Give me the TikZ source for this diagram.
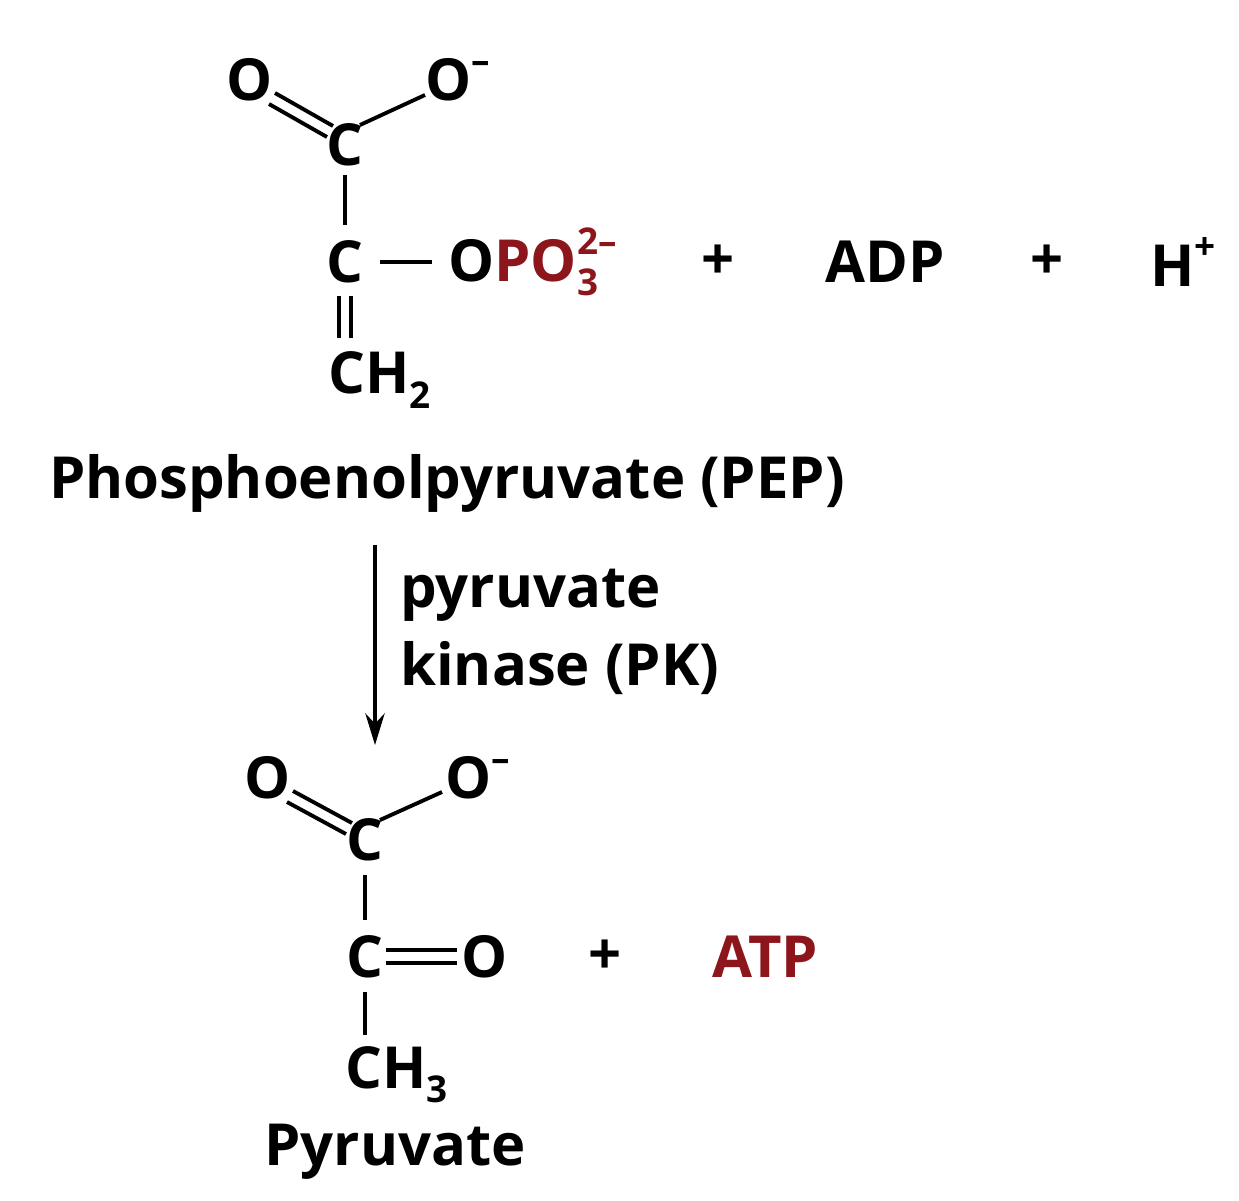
\documentclass[tikz,border=0pt]{standalone}
\usepackage{fontspec}
\usetikzlibrary{arrows.meta}
\setmainfont{Open Sans}
\definecolor{dred}{RGB}{140,22,28}
\newcommand{\smf}{\fontsize{21}{21}\selectfont}
\newcommand{\myup}[1]{\raisebox{0.85ex}{\smf #1}}
\newcommand{\mydn}[1]{\raisebox{-0.45ex}{\smf #1}}
\begin{document}
\begin{tikzpicture}[x=0.02cm,y=-0.02cm,
  t/.style={inner sep=0pt,font=\fontsize{33}{38}\selectfont\bfseries},
  bond/.style={line width=2.2pt}]
\useasboundingbox (0,0) rectangle (1239,1200);
% PEP
\node[t] (o1) at (250,80) {O};
\node[t,anchor=west] (o2) at (425,80) {O\myup{–}};
\node[t] (c1) at (345,145) {C};
\node[t] (c2) at (345,262) {C};
\node[t,anchor=west] (op) at (448,262) {O\textcolor{dred}{PO\rlap{\myup{2–}}\mydn{3}}};
\node[t] (p1) at (718,262) {+};
\node[t] (adp) at (885,262) {ADP};
\node[t] (p2) at (1047,262) {+};
\node[t,anchor=west] (h) at (1150,262) {H\myup{+}};
\node[t,anchor=west] (ch2) at (328,380) {CH\mydn{2}};
\node[t] (pep) at (447,483) {Phosphoenolpyruvate (PEP)};
\draw[bond] (275,93) -- (333,126);
\draw[bond] (269,104) -- (327,137);
\draw[bond] (360,125) -- (425,95);
\draw[bond] (345,175) -- (345,225);
\draw[bond] (380,262) -- (432,262);
\draw[bond] (339,296) -- (339,338);
\draw[bond] (351,296) -- (351,338);
% arrow
\coordinate (a1) at (375,545);
\coordinate (a2) at (375,745);
\draw[line width=1.8pt,-{Stealth[length=18pt,width=11pt]}] (a1) -- (a2);
\node[t,anchor=west] (k1) at (400,595) {pyruvate};
\node[t,anchor=west] (k2) at (400,668) {kinase (PK)};
% pyruvate
\node[t] (q1) at (268,778) {O};
\node[t,anchor=west] (q2) at (445,778) {O\myup{–}};
\node[t] (d1) at (365,840) {C};
\node[t] (d2) at (365,957) {C};
\node[t] (qo) at (485,957) {O};
\node[t] (p3) at (605,957) {+};
\node[t,text=dred] (atp) at (765,957) {ATP};
\node[t,anchor=west] (ch3) at (345,1075) {CH\mydn{3}};
\node[t] (pyr) at (395,1152) {Pyruvate};
\draw[bond] (293,791) -- (352,823);
\draw[bond] (287,802) -- (346,834);
\draw[bond] (380,820) -- (442,792);
\draw[bond] (365,875) -- (365,920);
\draw[bond] (386,950) -- (457,950);
\draw[bond] (386,963) -- (457,963);
\draw[bond] (365,992) -- (365,1035);
\end{tikzpicture}
\end{document}
